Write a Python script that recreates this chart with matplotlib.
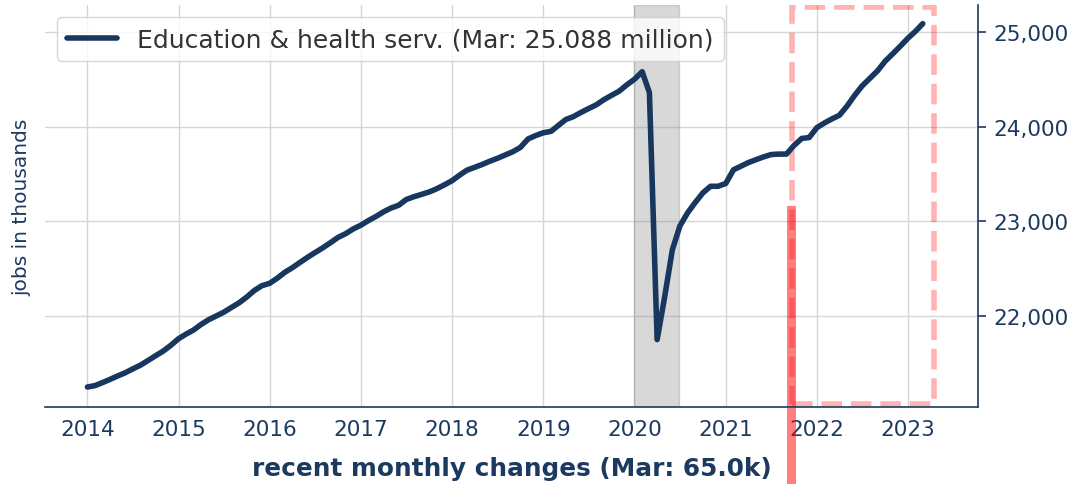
import matplotlib
matplotlib.use('Agg')
import matplotlib.pyplot as plt
import matplotlib.dates as mdates
from matplotlib.patches import Rectangle
import pandas as pd

# Education & health services employment, thousands, monthly
jobs_2014 = [21250, 21265, 21295, 21330, 21365, 21400, 21440, 21480, 21530, 21580, 21630, 21690]
jobs_2015 = [21760, 21810, 21850, 21910, 21960, 22000, 22040, 22090, 22140, 22200, 22270, 22320]
jobs_2016 = [22345, 22400, 22460, 22510, 22565, 22620, 22670, 22720, 22775, 22830, 22870, 22920]
jobs_2017 = [22960, 23010, 23050, 23100, 23140, 23170, 23230, 23260, 23285, 23310, 23345, 23385]
jobs_2018 = [23430, 23490, 23540, 23570, 23600, 23635, 23665, 23700, 23735, 23780, 23870, 23905]
jobs_2019 = [23935, 23950, 24010, 24075, 24105, 24150, 24190, 24230, 24285, 24330, 24375, 24440]
jobs_2020 = [24500, 24580, 24360, 21750, 22200, 22700, 22950, 23090, 23200, 23300, 23370, 23370]
jobs_2021 = [23400, 23545, 23580, 23620, 23650, 23680, 23705, 23710, 23710, 23800, 23875, 23885]
jobs_2022 = [23990, 24040, 24080, 24120, 24215, 24330, 24430, 24510, 24590, 24690, 24770, 24850]
jobs_2023 = [24935, 25010, 25088]

jobs = (jobs_2014 + jobs_2015 + jobs_2016 + jobs_2017 + jobs_2018 + jobs_2019
        + jobs_2020 + jobs_2021 + jobs_2022 + jobs_2023)
dates = pd.date_range('2014-01-01', periods=len(jobs), freq='MS')

latest_million = 25.088
latest_change_k = 65.0
recession = ('2020-01-01', '2020-06-28')
highlight_date = '2021-09-23'
highlight_top = 23160
yticks = [22000, 23000, 24000, 25000]

navy = '#1c3a60'
line_color = '#17375e'

fig = plt.figure(figsize=(10.78, 4.85), dpi=100)
ax = fig.add_axes([0.0417, 0.1588, 0.8655, 0.8289])

ax.axvspan(pd.Timestamp(recession[0]), pd.Timestamp(recession[1]), color='gray', alpha=0.3, zorder=1)
ax.plot(dates, jobs, color=line_color, lw=4, solid_capstyle='round', zorder=3,
        label=f'Education & health serv. (Mar: {latest_million:.3f} million)')

# highlight of the recent months
ax.add_patch(Rectangle((0.8006, 0.008), 0.1522, 0.988, transform=ax.transAxes, fill=False,
                       edgecolor='red', alpha=0.3, lw=4, ls='--', zorder=2))
ax.bar(pd.Timestamp(highlight_date), highlight_top - 19000, bottom=19000, width=36,
       color='red', alpha=0.5, clip_on=False, zorder=2)

ax.set_xlim(pd.Timestamp('2013-07-15'), pd.Timestamp('2023-10-08'))
ax.set_ylim(21039, 25285)
ax.xaxis.set_major_locator(mdates.YearLocator())
ax.xaxis.set_major_formatter(mdates.DateFormatter('%Y'))
ax.set_yticks(yticks)
ax.set_yticklabels([f'{v:,}' for v in yticks])
ax.yaxis.tick_right()

ax.grid(color='#d6d6d6', lw=1.0, zorder=0)
ax.set_axisbelow(True)

for side in ['left', 'top']:
    ax.spines[side].set_visible(False)
for side in ['right', 'bottom']:
    ax.spines[side].set_color(navy)
    ax.spines[side].set_linewidth(1.2)

ax.tick_params(axis='x', length=0, pad=9, labelsize=15.5, labelcolor=navy)
ax.tick_params(axis='y', length=6, width=1.2, color=navy, pad=5, labelsize=15.5, labelcolor=navy)

ax.set_ylabel('jobs in thousands', fontsize=14.5, color=navy)
ax.yaxis.set_label_position('left')
ax.yaxis.set_label_coords(-0.015, 0.5)
ax.set_xlabel(f'recent monthly changes (Mar: {latest_change_k:.1f}k)', fontsize=17.8,
              fontweight='bold', color=navy, labelpad=12)

leg = ax.legend(loc='upper left', fontsize=18)
for txt in leg.get_texts():
    txt.set_color('#333333')

fig.savefig('out.png', dpi=100)
